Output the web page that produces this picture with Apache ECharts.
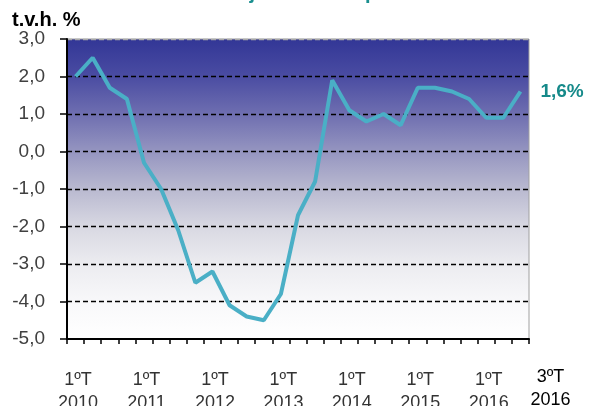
<!DOCTYPE html>
<html>
<head>
<meta charset="utf-8">
<script src="https://cdn.jsdelivr.net/npm/echarts@6/dist/echarts.min.js"></script>
<style>html,body{margin:0;padding:0;background:#fff}#c{width:596px;height:406px}</style>
</head>
<body>
<div id="c"></div>
<script>
var categories = [
  "1ºT\n2010","2ºT\n2010","3ºT\n2010","4ºT\n2010",
  "1ºT\n2011","2ºT\n2011","3ºT\n2011","4ºT\n2011",
  "1ºT\n2012","2ºT\n2012","3ºT\n2012","4ºT\n2012",
  "1ºT\n2013","2ºT\n2013","3ºT\n2013","4ºT\n2013",
  "1ºT\n2014","2ºT\n2014","3ºT\n2014","4ºT\n2014",
  "1ºT\n2015","2ºT\n2015","3ºT\n2015","4ºT\n2015",
  "1ºT\n2016","2ºT\n2016","3ºT\n2016"
];
var values = [2.0, 2.5, 1.7, 1.4, -0.3, -1.0, -2.1, -3.5, -3.2, -4.1, -4.4, -4.5, -3.8, -1.7, -0.8, 1.9, 1.1, 0.8, 1.0, 0.7, 1.7, 1.7, 1.6, 1.4, 0.9, 0.9, 1.6];
var yTicks = [-5, -4, -3, -2, -1, 0, 1, 2, 3];
var unitLabel = "t.v.h. %";
var titleText = "Ajuste del empleo";

var chart = echarts.init(document.getElementById('c'), null, {renderer: 'canvas'});
var lastIdx = categories.length - 1;
var splitColors = yTicks.map(function (v, i) {
  if (i === 0) return 'rgba(0,0,0,0)';
  if (i === yTicks.length - 1) return '#aaaaaa';
  return '#000000';
});
var labelFont = 'Liberation Sans, Arial, sans-serif';
function splitLabel(v, style) {
  var parts = v.split('\n');
  return '{' + style + '|' + parts[0] + '}\n{' + style + '|' + parts[1] + '}';
}
chart.setOption({
  animation: false,
  textStyle: {fontFamily: labelFont},
  graphic: [
    {type: 'text', left: 12, top: 10, style: {text: unitLabel, font: 'bold 20px "Liberation Sans", Arial, sans-serif', fill: '#000'}},
    {type: 'text', x: 235, y: 3, style: {text: titleText, font: 'bold 20px "Liberation Sans", Arial, sans-serif', fill: '#1a8f8f', verticalAlign: 'bottom'}}
  ],
  grid: {
    left: 67, right: 67, top: 39, bottom: 67,
    outerBoundsMode: 'none',
    containLabel: false,
    show: true,
    borderColor: '#a0a0a0', borderWidth: 1,
    backgroundColor: {
      type: 'linear', x: 0, y: 0, x2: 0, y2: 1,
      colorStops: [
        {offset: 0, color: '#323696'},
        {offset: 0.125, color: '#4a4ca2'},
        {offset: 0.25, color: '#6e6eb0'},
        {offset: 0.375, color: '#9595c0'},
        {offset: 0.5, color: '#b9b9d0'},
        {offset: 0.625, color: '#d8d8e2'},
        {offset: 0.75, color: '#ececf0'},
        {offset: 0.875, color: '#f8f8fa'},
        {offset: 1, color: '#ffffff'}
      ]
    }
  },
  xAxis: [{
    type: 'category',
    data: categories,
    position: 'bottom',
    boundaryGap: true,
    axisLine: {onZero: false, lineStyle: {color: '#000', width: 2}},
    axisTick: {show: true, interval: 0, length: 5, lineStyle: {color: '#000', width: 1.5}},
    axisLabel: {
      interval: function (i) { return i % 4 === 0; },
      hideOverlap: false,
      margin: 30,
      formatter: function (v) { return splitLabel(v, 'a'); },
      rich: {
        a: {fontSize: 18, color: '#333', padding: [0, 0, 0, 5], lineHeight: 23, fontFamily: labelFont}
      }
    },
    splitLine: {show: false}
  }, {
    type: 'category',
    data: categories,
    position: 'bottom',
    offset: 0,
    boundaryGap: true,
    axisLine: {show: false, onZero: false},
    axisTick: {show: false},
    axisLabel: {
      interval: function (i) { return i === lastIdx; },
      showMaxLabel: true,
      hideOverlap: false,
      margin: 27,
      formatter: function (v) { return splitLabel(v, 'b'); },
      rich: {
        b: {fontSize: 18, color: '#000', padding: [0, 0, 0, 60], lineHeight: 23, fontFamily: labelFont}
      }
    },
    splitLine: {show: false}
  }],
  yAxis: {
    type: 'value',
    min: -5, max: 3, interval: 1,
    axisLine: {show: true, lineStyle: {color: '#000', width: 2}},
    axisTick: {show: true, length: 7, lineStyle: {color: '#000', width: 1.5}},
    axisLabel: {
      margin: 22, fontSize: 19, color: '#404040',
      formatter: function (v) { return v.toFixed(1).replace('.', ','); }
    },
    splitLine: {show: true, lineStyle: {type: [5, 3], color: splitColors, width: 1.3}}
  },
  series: [{
    type: 'line',
    xAxisIndex: 0,
    data: values,
    showSymbol: false,
    symbol: 'none',
    lineStyle: {color: '#4aafc6', width: 4},
    itemStyle: {color: '#4aafc6'},
    endLabel: {
      show: true,
      distance: 20,
      formatter: function (p) { return p.value.toFixed(1).replace('.', ',') + '%'; },
      fontSize: 19, fontWeight: 'bold', color: '#168a8a'
    }
  }]
});
</script>
</body>
</html>
